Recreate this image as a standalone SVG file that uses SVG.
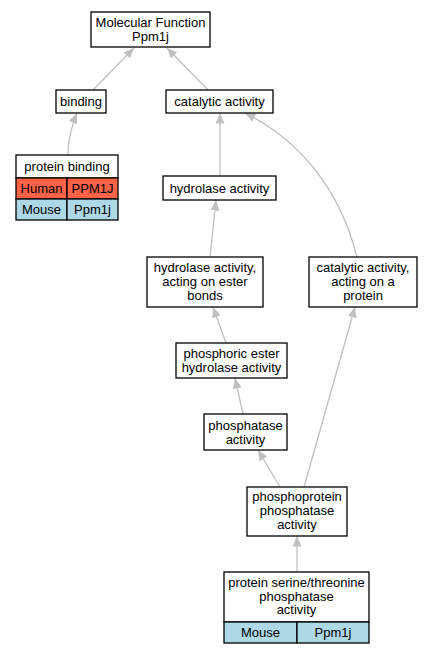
<svg xmlns="http://www.w3.org/2000/svg" width="432" height="653" viewBox="0 0 432 653">
<defs>
<marker id="arr" markerUnits="userSpaceOnUse" markerWidth="11" markerHeight="9" viewBox="0 0 11 9" refX="10.5" refY="4.5" orient="auto">
<path d="M0,0 L10.5,4.5 L0,9 z" fill="#c0c0c0"/>
</marker>
<style>
rect.n{fill:#fff;stroke:#000;stroke-width:1.3}
rect.h{fill:#ff6347;stroke:#000;stroke-width:1.3}
rect.m{fill:#add8e6;stroke:#000;stroke-width:1.3}
text{font-family:"Liberation Sans",Arial,sans-serif;font-size:13px;text-anchor:middle;fill:#000}
.e path{fill:none;stroke:#c0c0c0;stroke-width:1.3;marker-end:url(#arr)}
</style>
</defs>
<rect width="432" height="653" fill="#fff"/>
<g class="e" id="edges">
<path d="M93,90 L134,48"/>
<path d="M208,90 L167,48"/>
<path d="M68,155 C68,140 72,125 77,113"/>
<path d="M220,176 L220,113"/>
<path d="M357,257 C340,190 300,140 245,113"/>
<path d="M210,257 L216,200"/>
<path d="M226,343 L213,307"/>
<path d="M243,414 L235,378"/>
<path d="M280,487 L258,450"/>
<path d="M304,487 L355,307"/>
<path d="M297,572 L297,536"/>
</g>
<g id="mf"><rect class="n" x="91" y="12" width="119" height="35"/><text x="150.5" y="27">Molecular Function</text><text x="150.5" y="41">Ppm1j</text></g>
<g id="binding"><rect class="n" x="56" y="90" width="50" height="23"/><text x="81" y="106">binding</text></g>
<g id="catalytic"><rect class="n" x="166" y="90" width="107" height="23"/><text x="219.5" y="106">catalytic activity</text></g>
<g id="proteinbinding">
<rect class="n" x="16" y="155" width="102" height="23"/><text x="67" y="171">protein binding</text>
<rect class="h" x="16" y="178" width="51" height="21"/><rect class="h" x="67" y="178" width="51" height="21"/>
<text x="41.5" y="193">Human</text><text x="92.5" y="193">PPM1J</text>
<rect class="m" x="16" y="199" width="51" height="21"/><rect class="m" x="67" y="199" width="51" height="21"/>
<text x="41.5" y="214">Mouse</text><text x="92.5" y="214">Ppm1j</text>
</g>
<g id="hydrolase"><rect class="n" x="163" y="176" width="113" height="24"/><text x="219.5" y="192.5">hydrolase activity</text></g>
<g id="esterbonds"><rect class="n" x="147" y="257" width="116" height="50"/><text x="205" y="272">hydrolase activity,</text><text x="205" y="286">acting on ester</text><text x="205" y="300">bonds</text></g>
<g id="onprotein"><rect class="n" x="309" y="257" width="108" height="50"/><text x="363" y="272">catalytic activity,</text><text x="363" y="286">acting on a</text><text x="363" y="300">protein</text></g>
<g id="phosphoric"><rect class="n" x="176" y="343" width="111" height="35"/><text x="231.5" y="358">phosphoric ester</text><text x="231.5" y="372">hydrolase activity</text></g>
<g id="phosphatase"><rect class="n" x="204" y="414" width="83" height="36"/><text x="245.5" y="429.5">phosphatase</text><text x="245.5" y="443.5">activity</text></g>
<g id="phosphoprotein"><rect class="n" x="247" y="487" width="100" height="49"/><text x="297" y="501">phosphoprotein</text><text x="297" y="515">phosphatase</text><text x="297" y="529">activity</text></g>
<g id="serthr">
<rect class="n" x="224" y="572" width="145" height="50"/>
<text x="296.5" y="587">protein serine/threonine</text><text x="296.5" y="600.5">phosphatase</text><text x="296.5" y="614">activity</text>
<rect class="m" x="224" y="622" width="73" height="21"/><rect class="m" x="297" y="622" width="72" height="21"/>
<text x="260.5" y="637">Mouse</text><text x="333" y="637">Ppm1j</text>
</g>
</svg>
